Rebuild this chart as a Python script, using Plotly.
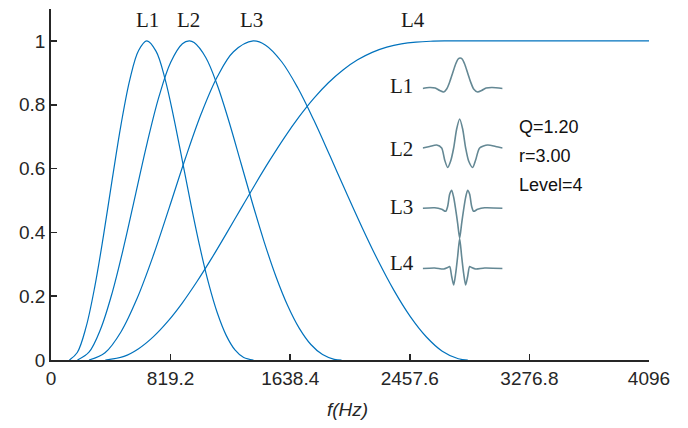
import plotly.graph_objects as go

# ---------------- data ----------------
# frequency responses (f in Hz, normalised magnitude)
L1_f = [126, 180, 240, 300, 360, 420, 480, 540, 600, 657, 720, 780, 840, 900, 960, 1020, 1080, 1140, 1200, 1260, 1320, 1387]
L1_y = [0, 0.0236, 0.1028, 0.2301, 0.3913, 0.5683, 0.7387, 0.879, 0.97, 1.0, 0.9672, 0.8827, 0.7614, 0.6235, 0.4838, 0.3534, 0.2392, 0.1463, 0.0772, 0.0317, 0.0077, 0]

L2_f = [181, 260, 340, 420, 500, 580, 660, 740, 820, 900, 947, 980, 1060, 1140, 1220, 1300, 1380, 1460, 1540, 1620, 1700, 1780, 1860, 1940, 1990]
L2_y = [0, 0.0246, 0.0973, 0.2121, 0.3581, 0.5208, 0.6829, 0.826, 0.933, 0.9909, 1.0, 0.9948, 0.9481, 0.8603, 0.7459, 0.619, 0.4912, 0.3704, 0.2626, 0.1716, 0.0999, 0.0485, 0.0169, 0.0022, 0]

L3_f = [260, 370, 480, 590, 700, 810, 920, 1030, 1140, 1250, 1385, 1470, 1580, 1690, 1800, 1910, 2020, 2130, 2240, 2350, 2460, 2570, 2680, 2790, 2855]
L3_y = [0, 0.0227, 0.0887, 0.1933, 0.3265, 0.4775, 0.6313, 0.7731, 0.8884, 0.9661, 1.0, 0.9866, 0.9347, 0.8531, 0.7518, 0.6405, 0.5272, 0.4163, 0.3116, 0.2173, 0.1368, 0.0729, 0.0276, 0.0039, 0]

L4_f = [372, 500, 600, 700, 800, 900, 1000, 1100, 1200, 1300, 1400, 1500, 1600, 1700, 1800, 1900, 2000, 2100, 2200, 2300, 2400, 2500, 2600, 2700, 2855, 4096]
L4_y = [0, 0.0113, 0.0354, 0.0724, 0.1209, 0.1792, 0.2459, 0.3184, 0.3953, 0.4737, 0.5518, 0.627, 0.6979, 0.7625, 0.8199, 0.8688, 0.9089, 0.9407, 0.9641, 0.9804, 0.9908, 0.9964, 0.999, 0.9999, 1.0, 1.0]

curve_names = ["L1", "L2", "L3", "L4"]

# tick labels
x_tickvals = [0, 819.2, 1638.4, 2457.6, 3276.8, 4096]
x_ticktext = ["0", "819.2", "1638.4", "2457.6", "3276.8", "4096"]
y_tickvals = [0, 0.2, 0.4, 0.6, 0.8, 1]
y_ticktext = ["0", "0.2", "0.4", "0.6", "0.8", "1"]

# wavelet thumbnails (sample offset, amplitude)
W1_t = [-37, -30.5, -24.5, -20, -16, -13, -10, -7, -4, -1.5, 0.5, 2.5, 5, 8, 11, 14, 18, 22, 26.5, 32.5, 43]
W1_a = [0.5, 1.5, 1, -1.5, -3, 0, 7, 16, 25, 30, 31, 30, 25, 16, 7, 0, -3, -1.5, 1, 1.5, 0.5]
W2_t = [-37, -30, -23, -18, -15, -12, -9, -6, -3, 0, 3, 6, 9, 13, 16, 20, 28, 36, 43]
W2_a = [0, 1.5, 3, 0, -12, -19.5, -13, 0, 19, 29, 19, 0, -13, -19.5, -12, 0, 3, 1.5, 0]
W3_t = [-37, -25, -18, -14, -12, -10, -8, -6, -4, -2, 0, 2, 4, 6, 8, 10, 12, 14, 18, 25, 43]
W3_a = [0, 0.5, -1, -3, 2, 14, 18, 11, -1, -15, -30, -15, -1, 11, 18, 14, 2, -3, -1, 0.5, 0]
W4_t = [-37, -25, -16, -12, -10, -8, -6, -4, -2, 0, 2, 4, 6, 8, 10, 12, 16, 25, 43]
W4_a = [0, 0.5, -0.5, 1, 2, -8, -16.5, -5, 12, 30, 12, -5, -16.5, -8, 2, 1, -0.5, 0.5, 0]

param_lines = ["Q=1.20", "r=3.00", "Level=4"]

# ---------------- layout geometry ----------------
W, H = 688, 428
PL, PR, PT, PB = 51, 649.5, 9, 360
pw, ph = PR - PL, PB - PT


def xp(px):
    return (px - PL) / pw


def yp(py):
    return (PB - py) / ph


BLUE = "#0072BD"
WAVE = "rgb(100,136,148)"
TXT = "#262626"
SANS = "Liberation Sans, Arial, sans-serif"
SERIF = "Liberation Serif, Times New Roman, serif"

fig = go.Figure()
for fx, fy, nm in zip([L1_f, L2_f, L3_f, L4_f], [L1_y, L2_y, L3_y, L4_y], curve_names):
    fig.add_trace(go.Scatter(x=fx, y=fy, mode="lines", name=nm,
                             line=dict(color=BLUE, width=1.2, shape="spline", smoothing=1.0),
                             showlegend=False, hoverinfo="skip"))

# wavelet thumbnails on small inset axes
baselines = [89, 148, 208.3, 268.5]
waves = [(W1_t, W1_a), (W2_t, W2_a), (W3_t, W3_a), (W4_t, W4_a)]
layout_axes = {}
for i, ((wt, wa), base) in enumerate(zip(waves, baselines)):
    k = i + 2
    fig.add_trace(go.Scatter(x=wt, y=wa, mode="lines", xaxis=f"x{k}", yaxis=f"y{k}",
                             line=dict(color=WAVE, width=1.6, shape="spline", smoothing=0.7),
                             showlegend=False, hoverinfo="skip"))
    layout_axes[f"xaxis{k}"] = dict(domain=[xp(423), xp(503)], range=[-37, 43],
                                    visible=False, anchor=f"y{k}", fixedrange=True)
    layout_axes[f"yaxis{k}"] = dict(domain=[yp(base + 60), yp(base - 60)], range=[-60, 60],
                                    visible=False, anchor=f"x{k}", fixedrange=True)

annotations = []
# top labels
for nm, px in zip(curve_names, [148, 189, 252, 413]):
    annotations.append(dict(x=xp(px), y=yp(20), xref="paper", yref="paper", text=nm,
                            showarrow=False, xanchor="center", yanchor="middle",
                            font=dict(family=SERIF, size=21, color="#1a1a1a")))
# inset labels
for nm, py in zip(curve_names, [86.5, 149, 207, 263]):
    annotations.append(dict(x=xp(402), y=yp(py), xref="paper", yref="paper", text=nm,
                            showarrow=False, xanchor="center", yanchor="middle",
                            font=dict(family=SERIF, size=21, color="#1a1a1a")))
# parameter text
for line, py in zip(param_lines, [127, 156, 184.5]):
    annotations.append(dict(x=xp(517), y=yp(py), xref="paper", yref="paper", text=line,
                            showarrow=False, xanchor="left", yanchor="middle",
                            font=dict(family=SANS, size=18, color="#111111")))
# x-axis title
annotations.append(dict(x=xp(348), y=yp(409), xref="paper", yref="paper", text="<i>f(Hz)</i>",
                        showarrow=False, xanchor="center", yanchor="middle",
                        font=dict(family=SANS, size=19, color=TXT)))

fig.update_layout(
    width=W, height=H, autosize=False,
    margin=dict(l=PL, r=W - PR, t=PT, b=H - PB, pad=0),
    paper_bgcolor="white", plot_bgcolor="rgba(0,0,0,0)",
    font=dict(family=SANS, size=19, color=TXT),
    hovermode=False,
    xaxis=dict(range=[0, 4096], tickvals=x_tickvals, ticktext=x_ticktext,
               showgrid=False, zeroline=False, showline=True, linecolor=TXT, linewidth=1.8,
               ticks="inside", ticklen=6, tickwidth=1.6, tickcolor=TXT, mirror=False,
               fixedrange=True),
    yaxis=dict(range=[0, 1.1], tickvals=y_tickvals, ticktext=y_ticktext,
               showgrid=False, zeroline=False, showline=True, linecolor=TXT, linewidth=1.8,
               ticks="inside", ticklen=6, tickwidth=1.6, tickcolor=TXT, mirror=False,
               fixedrange=True),
    annotations=annotations,
    **layout_axes,
)

fig.write_html("out.html", config={"displayModeBar": False, "staticPlot": True},
               post_script="document.body.style.margin='0';")
